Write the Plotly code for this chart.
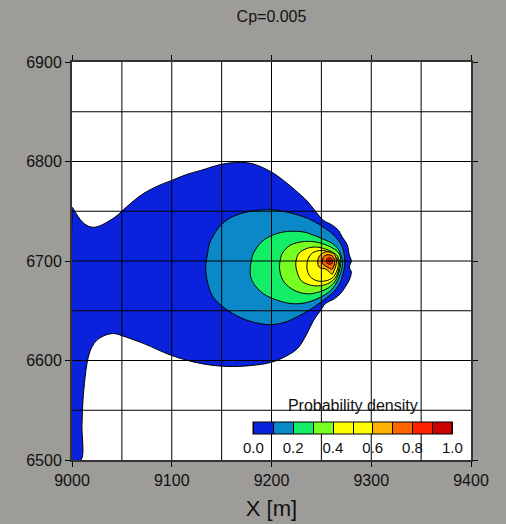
import plotly.graph_objects as go

# ---- data: isolines of the probability density ----
levels = [0.0, 0.1, 0.2, 0.3, 0.4, 0.5, 0.6, 0.7, 0.8, 0.9]
level_colors = ['#0a22dc', '#0a88c8', '#14ee66', '#77ff22', '#ffff00',
                '#ffff00', '#ffb300', '#ff6600', '#ff2200', '#cc0000']

lvl0_x = [9000, 9004, 9008, 9013, 9020, 9027, 9035, 9043, 9050, 9060, 9072, 9085, 9100, 9115,
          9129, 9149, 9165, 9180, 9199, 9212, 9224, 9236, 9244, 9252, 9261, 9267, 9271, 9276,
          9278, 9280, 9278, 9280, 9278, 9274, 9269, 9263, 9254, 9249, 9242, 9235, 9226, 9212,
          9199, 9180, 9156, 9129, 9100, 9072, 9050, 9043, 9035, 9027, 9022, 9018, 9015, 9013,
          9011, 9010, 9009, 9000, 9000]
lvl0_y = [6754, 6748, 6742, 6737, 6734, 6735, 6739, 6744, 6750, 6759, 6768, 6775, 6781, 6787,
          6791, 6797, 6799, 6798, 6790, 6781, 6771, 6760, 6750, 6741, 6736, 6731, 6724, 6716,
          6706, 6700, 6694, 6689, 6681, 6674, 6667, 6662, 6657, 6650, 6640, 6626, 6612, 6603,
          6598, 6595, 6594, 6597, 6605, 6617, 6625, 6627, 6626, 6622, 6617, 6609, 6597, 6582,
          6560, 6535, 6500, 6500, 6745]

lvl1_x = [9134, 9136, 9138, 9146.6, 9153, 9162, 9179, 9200, 9219, 9236, 9249, 9259, 9266, 9271,
          9273.5, 9272, 9267, 9259, 9250, 9240, 9226, 9215, 9200, 9182, 9165, 9150, 9142, 9138,
          9135]
lvl1_y = [6694, 6708, 6718, 6733, 6739.5, 6745, 6750, 6751.5, 6748.3, 6743, 6736, 6729, 6722,
          6714, 6700, 6688, 6675, 6666, 6659, 6652, 6644, 6639, 6636, 6638.5, 6645, 6655, 6663,
          6671, 6683]

lvl2_x = [9178.7, 9180, 9182, 9190.5, 9202, 9216, 9233, 9242, 9252, 9262, 9268, 9271, 9270,
          9266, 9260, 9250, 9236, 9222, 9206, 9192, 9182, 9179]
lvl2_y = [6692.6, 6701, 6708, 6719.6, 6726.4, 6729.7, 6729, 6726, 6722, 6717, 6710, 6700, 6690,
          6680, 6671, 6664, 6658.5, 6657, 6660.5, 6667, 6677.4, 6685]

lvl3_x = [9208, 9209, 9211, 9219, 9233, 9245, 9255, 9263, 9268, 9269.5, 9268, 9264, 9257, 9248,
          9236, 9222.6, 9212.5, 9209]
lvl3_y = [6694.3, 6702, 6708, 6716, 6719.6, 6719, 6716, 6712, 6707, 6700, 6690, 6680, 6673,
          6669, 6667, 6670.6, 6679, 6687]

lvl4_x = [9224.3, 9225, 9227.7, 9236, 9245, 9254, 9261, 9266, 9268, 9267, 9263, 9256, 9247,
          9238, 9230, 9226]
lvl4_y = [6696, 6702, 6708, 6712.8, 6714, 6712, 6709, 6705, 6699, 6690, 6682, 6677, 6675, 6676,
          6680, 6688]

lvl5_x = [9235.5, 9237, 9241, 9248, 9255, 9261, 9265.5, 9267, 9265.5, 9261, 9254, 9246, 9239,
          9236]
lvl5_y = [6696, 6703, 6708, 6710.5, 6710, 6707, 6703, 6698, 6690, 6683, 6680, 6680, 6684, 6690]

lvl6_x = [9246.3, 9247, 9250, 9255, 9260, 9263.5, 9265, 9264.5, 9262.5, 9260.7, 9258, 9254,
          9249, 9247]
lvl6_y = [6698, 6703, 6707, 6709.3, 6708.5, 6706, 6701, 6695, 6690, 6686.7, 6689, 6692, 6693,
          6695]

lvl7_x = [9251, 9252, 9255, 9259, 9262, 9263.3, 9262.5, 9260.5, 9257.5, 9254, 9251.5]
lvl7_y = [6700, 6704, 6706, 6706, 6704, 6700, 6695, 6691.7, 6693, 6695, 6697]

lvl8_x = [9255, 9256, 9258, 9260.3, 9261.3, 9260.5, 9258.5, 9256]
lvl8_y = [6700, 6702.5, 6703.3, 6702.5, 6700, 6697.5, 6696.7, 6697.5]

lvl9_x = [9256.8, 9257.3, 9258.3, 9259.2, 9259.4, 9258.7, 9257.6]
lvl9_y = [6700, 6701.1, 6701.4, 6700.8, 6699.7, 6698.9, 6699]

x_ticks = [9000, 9100, 9200, 9300, 9400]
y_ticks = [6500, 6600, 6700, 6800, 6900]
cbar_ticks = [0.0, 0.2, 0.4, 0.6, 0.8, 1.0]

iso_x = [lvl0_x, lvl1_x, lvl2_x, lvl3_x, lvl4_x, lvl5_x, lvl6_x, lvl7_x, lvl8_x, lvl9_x]
iso_y = [lvl0_y, lvl1_y, lvl2_y, lvl3_y, lvl4_y, lvl5_y, lvl6_y, lvl7_y, lvl8_y, lvl9_y]

FONT = 'Liberation Sans, Arial, sans-serif'

fig = go.Figure()
for xs, ys, col in zip(iso_x, iso_y, level_colors):
    # close each isoline back onto its first point
    fig.add_trace(go.Scatter(x=list(xs) + [xs[0]], y=list(ys) + [ys[0]], mode='lines',
                             fill='toself', fillcolor=col,
                             line=dict(color='black', width=1, shape='spline', smoothing=1),
                             showlegend=False, hoverinfo='skip'))

# discrete colour scale for the colour bar
cscale = []
n = len(level_colors)
for i, col in enumerate(level_colors):
    cscale.append([i / n, col])
    cscale.append([(i + 1) / n, col])

fig.add_trace(go.Contour(
    x=[9600, 9610], y=[7000, 7010], z=[[0, 1], [1, 0]],
    zmin=0, zmax=1, colorscale=cscale,
    contours=dict(start=0, end=1, size=0.1, coloring='heatmap'),
    line=dict(color='black', width=1), hoverinfo='skip',
    colorbar=dict(orientation='h', lenmode='pixels', len=199, thickness=12,
                  x=0.7038, xanchor='center', y=0.02, yanchor='bottom', ypad=0, xpad=0,
                  outlinecolor='black', outlinewidth=1,
                  title=dict(text='Probability density', side='top',
                             font=dict(size=16, color='#111', family=FONT)),
                  tickvals=cbar_ticks, tickformat='.1f', ticks='',
                  tickfont=dict(size=15, color='#111', family=FONT))))

# grid lines drawn above the filled areas, as in the reference
for v in range(9050, 9400, 50):
    fig.add_vline(x=v, line=dict(color='black', width=1), layer='above')
for v in range(6550, 6900, 50):
    fig.add_hline(y=v, line=dict(color='black', width=1), layer='above')

fig.update_layout(
    width=506, height=524,
    margin=dict(l=72, r=35, t=62, b=64, autoexpand=False),
    paper_bgcolor='#9d9c98', plot_bgcolor='white',
    font=dict(family=FONT, color='#111'),
    title=dict(text='Cp=0.005', x=0.5, xref='paper', y=1 - 16 / 524, yanchor='middle',
               font=dict(size=16, color='#111', family=FONT)),
)
fig.update_xaxes(range=[9000, 9400], tickvals=x_ticks, ticks='outside', ticklen=5,
                 tickcolor='black', showline=True, linecolor='#333', linewidth=2,
                 mirror='ticks', showgrid=False, zeroline=False, automargin=False,
                 tickfont=dict(size=16, family=FONT, color='#111'),
                 title=dict(text='X [m]', font=dict(size=22, family=FONT, color='#111'),
                            standoff=12))
fig.update_yaxes(range=[6500, 6900], tickvals=y_ticks, ticks='outside', ticklen=5,
                 tickcolor='black', showline=True, linecolor='#333', linewidth=2,
                 mirror='ticks', showgrid=False, zeroline=False, automargin=False,
                 tickfont=dict(size=16, family=FONT, color='#111'))

fig.write_html('out.html')
